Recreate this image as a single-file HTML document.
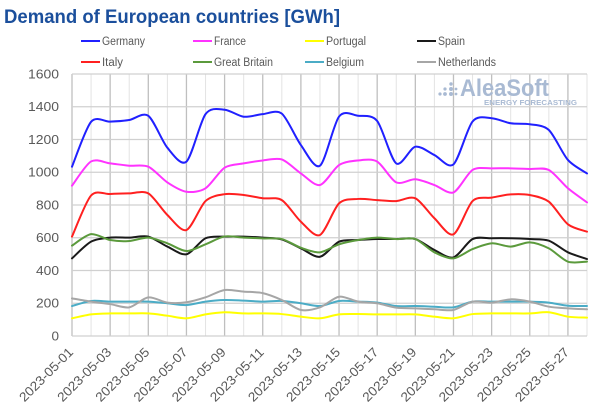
<!DOCTYPE html>
<html>
<head>
<meta charset="utf-8">
<style>
  html, body { margin:0; padding:0; background:#ffffff; }
  body { width:600px; height:418px; overflow:hidden; }
  svg { display:block; font-family:"Liberation Sans", "DejaVu Sans", sans-serif; }
</style>
</head>
<body>
<svg id="chart" width="600" height="418" viewBox="0 0 600 418" xmlns="http://www.w3.org/2000/svg">
  <rect x="0" y="0" width="600" height="418" fill="#ffffff"/>

  <!-- Title -->
  <text x="4" y="23" font-size="19" font-weight="bold" fill="#1b4f9c" textLength="336" lengthAdjust="spacingAndGlyphs">Demand of European countries [GWh]</text>

  <!-- Legend -->
  <g font-size="11.5" fill="#595959">
    <line x1="81" y1="41" x2="100" y2="41" stroke="#2020ff" stroke-width="2"/>
    <text x="102" y="45" textLength="43" lengthAdjust="spacingAndGlyphs">Germany</text>
    <line x1="193" y1="41" x2="212" y2="41" stroke="#ff33ff" stroke-width="2"/>
    <text x="214" y="45" textLength="32" lengthAdjust="spacingAndGlyphs">France</text>
    <line x1="305" y1="41" x2="324" y2="41" stroke="#ffff00" stroke-width="2"/>
    <text x="326" y="45" textLength="40" lengthAdjust="spacingAndGlyphs">Portugal</text>
    <line x1="417" y1="41" x2="436" y2="41" stroke="#1a1a1a" stroke-width="2"/>
    <text x="438" y="45" textLength="27" lengthAdjust="spacingAndGlyphs">Spain</text>

    <line x1="81" y1="62" x2="100" y2="62" stroke="#ff2020" stroke-width="2"/>
    <text x="102" y="66" textLength="21" lengthAdjust="spacingAndGlyphs">Italy</text>
    <line x1="193" y1="62" x2="212" y2="62" stroke="#5b9a3c" stroke-width="2"/>
    <text x="214" y="66" textLength="59" lengthAdjust="spacingAndGlyphs">Great Britain</text>
    <line x1="305" y1="62" x2="324" y2="62" stroke="#4bacc6" stroke-width="2"/>
    <text x="326" y="66" textLength="38" lengthAdjust="spacingAndGlyphs">Belgium</text>
    <line x1="417" y1="62" x2="436" y2="62" stroke="#a6a6a6" stroke-width="2"/>
    <text x="438" y="66" textLength="58" lengthAdjust="spacingAndGlyphs">Netherlands</text>
  </g>

  <!-- grid -->
  <g id="grid"></g>

  <!-- Watermark -->
  <g fill="#a9bad3">
    <circle cx="440" cy="94" r="1.6"/>
    <circle cx="445" cy="94" r="1.9"/>
    <circle cx="445" cy="89" r="1.6"/>
    <circle cx="451" cy="94" r="2"/>
    <circle cx="451" cy="89" r="2"/>
    <circle cx="451" cy="84" r="1.7"/>
    <circle cx="456" cy="94" r="1.4"/>
    <circle cx="456" cy="89" r="1.4"/>
    <text x="460" y="96" font-size="24" font-weight="bold" textLength="89" lengthAdjust="spacingAndGlyphs">AleaSoft</text>
    <text x="484" y="105" font-size="7.5" font-weight="bold" textLength="93" lengthAdjust="spacingAndGlyphs">ENERGY FORECASTING</text>
  </g>

  <!-- series -->
  <g id="series" fill="none" stroke-width="2" stroke-linejoin="round" stroke-linecap="round"></g>

  <!-- Y axis labels -->
  <g font-size="12.5" fill="#595959" text-anchor="end">
    <text x="59" y="78.5" textLength="31" lengthAdjust="spacingAndGlyphs">1600</text>
    <text x="59" y="111.2" textLength="31" lengthAdjust="spacingAndGlyphs">1400</text>
    <text x="59" y="144" textLength="31" lengthAdjust="spacingAndGlyphs">1200</text>
    <text x="59" y="176.7" textLength="31" lengthAdjust="spacingAndGlyphs">1000</text>
    <text x="59" y="209.5" textLength="23" lengthAdjust="spacingAndGlyphs">800</text>
    <text x="59" y="242.2" textLength="23" lengthAdjust="spacingAndGlyphs">600</text>
    <text x="59" y="275" textLength="23" lengthAdjust="spacingAndGlyphs">400</text>
    <text x="59" y="307.7" textLength="23" lengthAdjust="spacingAndGlyphs">200</text>
    <text x="59" y="340.5" textLength="7.5" lengthAdjust="spacingAndGlyphs">0</text>
  </g>

  <!-- X axis labels -->
  <g font-size="13" fill="#595959" text-anchor="end">
    <text transform="translate(74,353) rotate(-45)" textLength="70" lengthAdjust="spacingAndGlyphs">2023-05-01</text>
    <text transform="translate(112.1,353) rotate(-45)" textLength="70" lengthAdjust="spacingAndGlyphs">2023-05-03</text>
    <text transform="translate(150.3,353) rotate(-45)" textLength="70" lengthAdjust="spacingAndGlyphs">2023-05-05</text>
    <text transform="translate(188.4,353) rotate(-45)" textLength="70" lengthAdjust="spacingAndGlyphs">2023-05-07</text>
    <text transform="translate(226.6,353) rotate(-45)" textLength="70" lengthAdjust="spacingAndGlyphs">2023-05-09</text>
    <text transform="translate(264.7,353) rotate(-45)" textLength="70" lengthAdjust="spacingAndGlyphs">2023-05-11</text>
    <text transform="translate(302.9,353) rotate(-45)" textLength="70" lengthAdjust="spacingAndGlyphs">2023-05-13</text>
    <text transform="translate(341,353) rotate(-45)" textLength="70" lengthAdjust="spacingAndGlyphs">2023-05-15</text>
    <text transform="translate(379.2,353) rotate(-45)" textLength="70" lengthAdjust="spacingAndGlyphs">2023-05-17</text>
    <text transform="translate(417.3,353) rotate(-45)" textLength="70" lengthAdjust="spacingAndGlyphs">2023-05-19</text>
    <text transform="translate(455.5,353) rotate(-45)" textLength="70" lengthAdjust="spacingAndGlyphs">2023-05-21</text>
    <text transform="translate(493.6,353) rotate(-45)" textLength="70" lengthAdjust="spacingAndGlyphs">2023-05-23</text>
    <text transform="translate(531.7,353) rotate(-45)" textLength="70" lengthAdjust="spacingAndGlyphs">2023-05-25</text>
    <text transform="translate(569.9,353) rotate(-45)" textLength="70" lengthAdjust="spacingAndGlyphs">2023-05-27</text>
  </g>
</svg>

<script>
(function(){
  var NS = "http://www.w3.org/2000/svg";
  var X0 = 72, DX = 515/27, Y0 = 336, K = 0.16375;
  function xd(i){ return X0 + i*DX; }
  function yv(v){ return Y0 - v*K; }

  var grid = document.getElementById("grid");
  function line(x1,y1,x2,y2,c,w){
    var l = document.createElementNS(NS,"line");
    l.setAttribute("x1",x1); l.setAttribute("y1",y1);
    l.setAttribute("x2",x2); l.setAttribute("y2",y2);
    l.setAttribute("stroke",c); l.setAttribute("stroke-width",w);
    grid.appendChild(l);
  }
  for (var i=0;i<28;i++){
    var x = xd(i);
    var odd = (i%2===0);
    line(x, 74, x, 336, odd ? "#bfbfbf" : "#e3e3e3", odd ? 1.3 : 1);
  }
  for (var v=0; v<=1600; v+=200){
    var y = yv(v);
    line(72, y, 587, y, "#d0d0d0", 1.2);
  }

  var data = [
    ["#2020ff",[1034,1308,1309,1319,1345,1150,1065,1355,1382,1339,1355,1358,1166,1040,1340,1345,1313,1054,1156,1105,1048,1310,1330,1299,1293,1258,1075,993]],
    ["#ff33ff",[918,1066,1054,1040,1034,938,881,902,1028,1054,1072,1078,993,922,1044,1072,1065,938,957,922,877,1014,1024,1024,1020,1014,902,816]],
    ["#ffff00",[108,132,138,138,138,124,108,132,145,138,138,134,118,108,132,134,132,132,132,118,108,134,138,138,138,145,118,112]],
    ["#1a1a1a",[474,576,601,601,607,546,499,597,607,607,601,590,535,484,576,586,592,592,592,525,480,592,597,597,592,582,511,470]],
    ["#ff2020",[607,858,867,871,871,739,647,824,866,861,841,830,698,617,810,837,830,824,841,719,621,824,845,865,861,820,682,637]],
    ["#5b9a3c",[552,622,586,580,601,566,519,560,608,601,596,592,539,511,560,586,601,592,592,511,474,531,566,546,572,535,454,454]],
    ["#4bacc6",[183,214,210,210,210,200,189,210,220,216,210,214,200,183,214,210,204,183,183,179,175,210,210,210,210,204,185,183]],
    ["#a6a6a6",[230,210,195,175,236,204,206,236,281,271,262,220,159,175,240,210,200,173,169,163,159,210,204,224,210,179,169,163]]
  ];
  var T = 7;
  var g = document.getElementById("series");
  data.forEach(function(s){
    var pts = s[1].map(function(v,i){ return [xd(i), yv(v)]; });
    var d = "M" + pts[0][0].toFixed(2) + "," + pts[0][1].toFixed(2);
    for (var i=0;i<pts.length-1;i++){
      var p0 = pts[i>0?i-1:i], p1 = pts[i], p2 = pts[i+1], p3 = pts[i+2<pts.length?i+2:i+1];
      var c1x = p1[0] + (p2[0]-p0[0])/T, c1y = p1[1] + (p2[1]-p0[1])/T;
      var c2x = p2[0] - (p3[0]-p1[0])/T, c2y = p2[1] - (p3[1]-p1[1])/T;
      d += " C" + c1x.toFixed(2) + "," + c1y.toFixed(2) + " " + c2x.toFixed(2) + "," + c2y.toFixed(2) + " " + p2[0].toFixed(2) + "," + p2[1].toFixed(2);
    }
    var p = document.createElementNS(NS,"path");
    p.setAttribute("d", d);
    p.setAttribute("stroke", s[0]);
    g.appendChild(p);
  });
})();
</script>
</body>
</html>
